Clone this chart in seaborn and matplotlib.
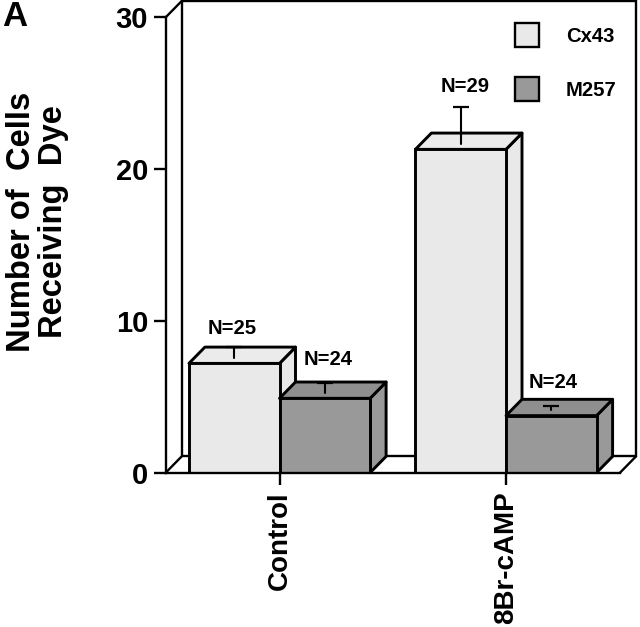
import matplotlib
matplotlib.use("Agg")
import matplotlib.pyplot as plt
from matplotlib.patches import Polygon, Rectangle
import pandas as pd
import seaborn as sns

categories = ["Control", "8Br-cAMP"]
series = ["Cx43", "M257"]
cx43_means = [7.2, 21.3]
m257_means = [4.9, 3.76]
cx43_err = [1.07, 2.8]
m257_err = [1.0, 0.66]
cx43_n = ["N=25", "N=29"]
m257_n = ["N=24", "N=24"]
y_ticks = [0, 10, 20, 30]

W, H = 640, 627
LIGHT, DARK = "#E9E9E9", "#999999"
LIGHT_TOP, DARK_TOP = "#EBEBEB", "#8F8F8F"
LW = 2.1
AXLW = 1.7

sns.set_theme(style="white")
plt.rcParams["font.family"] = ["Liberation Sans", "DejaVu Sans"]
plt.rcParams["font.weight"] = "bold"

df = pd.DataFrame({
    "category": categories * 2,
    "series": [series[0]] * 2 + [series[1]] * 2,
    "value": cx43_means + m257_means,
})

fig = plt.figure(figsize=(W / 100, H / 100), dpi=100)
L, R, T, B = 165.7, 620.0, 17.3, 472.7
ax = fig.add_axes([L / W, 1 - B / H, (R - L) / W, (B - T) / H])

sns.barplot(data=df, x="category", y="value", hue="series", order=categories,
            hue_order=series, palette=[LIGHT, DARK], width=0.8, gap=0,
            edgecolor="black", linewidth=LW, saturation=1, legend=False,
            errorbar=None, ax=ax)
bars = sorted([p for p in ax.patches if p.get_height() > 0], key=lambda p: p.get_x())

x0, x1 = (165.7 - 279.5) / 226.5, (620 - 279.5) / 226.5
ax.set_xlim(x0, x1)
ax.set_ylim(0, 30)
DX, DY = 16.0 / 226.5, 16.3 / 15.18
PX = 1 / 15.18

# box walls behind the bars
ax.add_patch(Rectangle((x0 + DX, DY), x1 - x0, 30, facecolor="white", edgecolor="black",
                       linewidth=AXLW, clip_on=False, zorder=0.5))
for xa, ya in [(x0, 0), (x0, 30), (x1, 0)]:
    ax.plot([xa, xa + DX], [ya, ya + DY], color="black", lw=AXLW, clip_on=False,
            zorder=0.6, solid_capstyle="round")

errs = [cx43_err[0], m257_err[0], cx43_err[1], m257_err[1]]
ns = [cx43_n[0], m257_n[0], cx43_n[1], m257_n[1]]
label_shift = [(-2.5, 19), (3.7, 23.7), (4.3, 20), (2.3, 23)]
tops = [LIGHT_TOP, DARK_TOP, LIGHT_TOP, DARK_TOP]
sides = [LIGHT, DARK, LIGHT, DARK]

for i, bar in enumerate(bars):
    xl, w, h = bar.get_x(), bar.get_width(), bar.get_height()
    xr, xc = xl + w, xl + w / 2
    z = 2 + i
    bar.set_zorder(z + 0.3)
    ax.add_patch(Polygon([(xr, 0), (xr + DX, DY), (xr + DX, h + DY), (xr, h)],
                         closed=True, facecolor=sides[i], edgecolor="black",
                         linewidth=LW, clip_on=False, zorder=z, joinstyle="round"))
    ax.add_patch(Polygon([(xl, h), (xl + DX, h + DY), (xr + DX, h + DY), (xr, h)],
                         closed=True, facecolor=tops[i], edgecolor="black",
                         linewidth=LW, clip_on=False, zorder=z + 0.1, joinstyle="round"))
    cap = h + errs[i]
    ax.plot([xc, xc], [h + 5.7 * PX, cap], color="black", lw=1.5, clip_on=False, zorder=z + 0.2)
    ax.plot([xc], [cap], marker="_", ms=11.5, mew=1.6, color="black", clip_on=False, zorder=z + 0.2)
    ax.annotate(ns[i], xy=(xc, cap), xytext=(label_shift[i][0] * 0.72, label_shift[i][1] * 0.72),
                textcoords="offset points", ha="center", va="center",
                fontsize=14.6, fontweight="bold", color="black", zorder=20, annotation_clip=False)

# axes
for s in ["top", "right"]:
    ax.spines[s].set_visible(False)
for s in ["left", "bottom"]:
    ax.spines[s].set_linewidth(AXLW)
    ax.spines[s].set_color("black")
    ax.spines[s].set_zorder(10)
ax.set_yticks(y_ticks)
ax.set_yticklabels([str(t) for t in y_ticks], fontsize=21, fontweight="bold")
ax.tick_params(axis="y", left=True, length=8.6, width=AXLW, color="black", pad=4, labelcolor="black")
ax.tick_params(axis="x", bottom=True, length=8.8, width=AXLW, color="black", pad=4.5, labelcolor="black")
ax.set_xticks([0, 1])
ax.set_xticklabels(categories, rotation=90, fontsize=20, fontweight="bold", ha="center", va="top")
ax.set_xlabel("")
ax.set_ylabel("")
ax.patch.set_alpha(0)

# y-axis title: two lines, each placed separately for the doubled word gaps
fig.text(22 / W, 1 - 222 / H, "Number of  Cells", rotation=90, ha="center", va="center",
         fontsize=23.6, fontweight="bold", color="black")
fig.text(53.5 / W, 1 - 222 / H, "Receiving  Dye", rotation=90, ha="center", va="center",
         fontsize=23.6, fontweight="bold", color="black")
fig.text(2.5 / W, 1 - 16 / H, "A", ha="left", va="center", fontsize=25, fontweight="bold", color="black")

# legend
handles = [Rectangle((0, 0), 1, 1, facecolor=c, edgecolor="black", linewidth=AXLW) for c in (LIGHT, DARK)]
leg = fig.legend(handles, series, loc="upper left", bbox_to_anchor=(515 / W, 1 - 23 / H),
                 frameon=False, borderpad=0, borderaxespad=0, fontsize=14.6,
                 handlelength=1.2, handleheight=1.47, labelspacing=1.45, handletextpad=1.3)
for t in leg.get_texts():
    t.set_fontweight("bold")
    t.set_color("black")

fig.savefig("out.png", dpi=100)
